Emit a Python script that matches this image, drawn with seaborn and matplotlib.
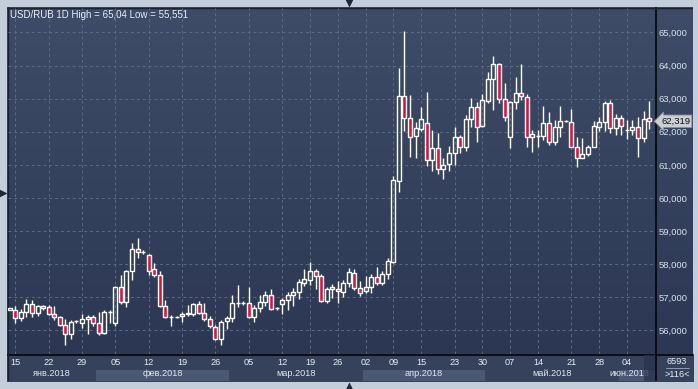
import numpy as np
import pandas as pd
import matplotlib
matplotlib.use("Agg")
import matplotlib.pyplot as plt
import matplotlib.transforms as mtransforms
import seaborn as sns

# ---------------- data ----------------
opens = [56.63, 56.63, 56.37, 56.56, 56.80, 56.53, 56.73, 56.71, 56.49, 56.40,
         56.16, 55.89, 56.27, 56.22, 56.35, 56.40, 56.22, 55.92, 56.56, 56.22,
         57.31, 56.87, 57.79, 58.46, 58.37, 58.29, 57.84, 57.66, 56.73, 56.40,
         56.40, 56.42, 56.49, 56.49, 56.80, 56.53, 56.34, 56.10, 55.74, 56.27,
         56.37, 56.83, 56.83, 56.83, 56.40, 56.67, 56.87, 57.07, 56.68, 56.80,
         56.92, 57.07, 57.15, 57.44, 57.52, 57.78, 57.63, 56.88, 57.24, 57.24,
         57.17, 57.42, 57.73, 57.27, 57.20, 57.30, 57.61, 57.42, 57.70, 58.08,
         60.52, 63.08, 62.43, 61.88, 62.07, 62.28, 61.15, 61.50, 60.87, 61.02,
         61.35, 61.85, 61.53, 62.40, 62.74, 62.17, 62.94, 63.61, 64.06, 62.98,
         61.83, 62.89, 63.18, 63.06, 61.83, 61.87, 61.87, 62.28, 61.70, 62.15,
         62.33, 62.31, 61.55, 61.20, 61.32, 61.55, 62.13, 62.31, 62.86, 62.10,
         62.41, 62.04, 62.04, 62.13, 61.80, 62.41]
highs = [56.68, 56.75, 56.65, 56.95, 56.93, 56.78, 56.78, 56.76, 56.75, 56.44,
         56.34, 56.32, 56.32, 56.49, 56.47, 56.47, 56.56, 56.61, 56.63, 57.33,
         57.66, 57.82, 58.65, 58.78, 58.44, 58.31, 58.04, 57.79, 56.93, 56.47,
         56.44, 56.55, 56.78, 56.83, 56.88, 56.83, 56.42, 56.16, 56.32, 56.42,
         57.08, 57.38, 56.90, 57.31, 56.77, 57.08, 57.18, 57.25, 56.70, 56.98,
         57.15, 57.28, 57.54, 57.84, 58.06, 57.84, 57.69, 57.31, 57.39, 57.50,
         57.52, 57.88, 57.86, 57.50, 57.65, 57.71, 57.93, 57.78, 58.20, 60.66,
         63.93, 65.04, 63.11, 62.30, 62.74, 63.21, 62.05, 61.95, 61.20, 61.57,
         62.15, 61.90, 62.50, 63.01, 62.91, 63.14, 63.81, 64.28, 64.08, 63.46,
         62.93, 63.66, 64.06, 63.13, 62.05, 62.05, 62.78, 62.61, 62.36, 62.78,
         62.35, 62.68, 61.83, 61.80, 61.60, 62.33, 62.45, 62.94, 62.96, 62.54,
         62.50, 62.36, 62.36, 62.44, 62.64, 62.93]
lows = [56.62, 56.22, 56.27, 56.39, 56.39, 56.42, 56.63, 56.47, 56.32, 56.14,
        55.551, 55.74, 56.22, 56.07, 55.88, 56.14, 55.87, 55.89, 56.22, 56.12,
        56.81, 56.71, 57.52, 58.19, 58.32, 57.67, 57.62, 56.71, 56.36, 56.14,
        56.36, 56.24, 56.42, 56.42, 56.51, 56.27, 56.07, 55.72, 55.57, 56.04,
        56.24, 56.71, 56.77, 56.37, 56.25, 56.57, 56.75, 56.61, 56.63, 56.49,
        56.63, 56.75, 56.95, 57.34, 57.36, 57.25, 56.85, 56.82, 56.97, 56.82,
        57.02, 57.32, 57.22, 57.04, 57.12, 57.14, 57.37, 57.37, 57.55, 58.05,
        60.19, 62.03, 61.25, 61.20, 62.03, 60.98, 60.82, 60.72, 60.56, 60.82,
        61.00, 61.35, 61.43, 62.13, 61.70, 62.13, 62.88, 62.66, 62.86, 62.34,
        61.50, 62.69, 62.96, 61.55, 61.40, 61.53, 61.75, 61.60, 61.60, 61.83,
        62.30, 61.53, 60.93, 61.20, 61.27, 61.53, 62.03, 62.03, 61.97, 61.90,
        61.90, 61.78, 61.90, 61.25, 61.69, 62.08]
closes = [56.67, 56.36, 56.56, 56.80, 56.53, 56.73, 56.67, 56.49, 56.41, 56.16,
          55.89, 56.25, 56.27, 56.34, 56.40, 56.22, 55.92, 56.56, 56.57, 57.31,
          56.87, 57.79, 58.46, 58.37, 58.37, 57.79, 57.66, 56.73, 56.39, 56.40,
          56.40, 56.49, 56.53, 56.80, 56.53, 56.34, 56.12, 55.74, 56.25, 56.37,
          56.83, 56.83, 56.83, 56.40, 56.67, 56.87, 57.08, 56.65, 56.68, 56.92,
          57.08, 57.17, 57.45, 57.54, 57.78, 57.63, 56.88, 57.25, 57.32, 57.19,
          57.42, 57.76, 57.27, 57.12, 57.30, 57.61, 57.42, 57.70, 58.10, 60.54,
          63.08, 62.43, 61.85, 62.10, 62.40, 61.15, 61.50, 60.88, 60.99, 61.37,
          61.85, 61.53, 62.40, 62.74, 62.13, 62.96, 63.61, 64.06, 62.98, 62.44,
          62.91, 63.18, 63.08, 61.83, 61.92, 61.87, 62.28, 61.70, 62.15, 62.33,
          62.33, 61.55, 61.20, 61.32, 61.55, 62.19, 62.31, 62.86, 62.10, 62.41,
          62.19, 62.04, 62.13, 61.80, 62.39, 62.319]

tick_idx = [1, 7, 13, 19, 25, 31, 37, 43, 49, 54, 59, 64, 69, 74, 80, 85, 90, 95, 101, 106, 111]
tick_labels = ["15", "22", "29", "05", "12", "19", "26", "05", "12", "19", "26",
               "02", "09", "15", "23", "30", "07", "14", "21", "28", "04"]
month_labels = ["янв.2018", "фев.2018", "мар.2018", "апр.2018", "май.2018", "июн.2018"]
month_bounds = [-0.5, 15.5, 39.5, 63.5, 85.5, 109.5, 118.0]
price_ticks = [56, 57, 58, 59, 60, 61, 62, 63, 64, 65]
title = "USD/RUB 1D High = 65,04 Low = 55,551"
last_price = 62.319
footer_top = "6593"
footer_bottom = ">116<"

df = pd.DataFrame({"open": opens, "high": highs, "low": lows, "close": closes})
df["i"] = np.arange(len(df))
df["up"] = df["close"] >= df["open"]
df["top"] = df[["open", "close"]].max(axis=1)
df["bot"] = df[["open", "close"]].min(axis=1)

# ---------------- style ----------------
sns.set_theme(style="dark")
plt.rcParams["font.family"] = ["Liberation Sans", "DejaVu Sans"]

W, H = 698, 389
fig = plt.figure(figsize=(W / 100, H / 100), dpi=100, facecolor="#c3ceda")


def rect(x0, y0, x1, y1):
    return [x0 / W, 1 - y1 / H, (x1 - x0) / W, (y1 - y0) / H]


# panel background
bg = fig.add_axes(rect(7, 7, 693, 381))
bg.set_xlim(7, 693)
bg.set_ylim(381, 7)
bg.axis("off")
grad = np.linspace(0, 1, 256).reshape(-1, 1)
cmap = matplotlib.colors.LinearSegmentedColormap.from_list("g", ["#3f4c67", "#2c3853"])
bg.imshow(grad, extent=[7, 693, 354, 7], aspect="auto", cmap=cmap, zorder=0)
bg.fill_between([7, 693], 354, 381, color="#36425c", zorder=0.5)
bg.plot([655.5, 655.5], [7, 381], color="black", lw=1.1, zorder=3)
bg.plot([7, 693], [354.5, 354.5], color="black", lw=1.1, zorder=3)
bg.plot([7.5, 7.5], [7, 381], color="#1a2232", lw=1.0, zorder=3)
bg.plot([7, 693], [7.5, 7.5], color="#1a2232", lw=1.0, zorder=3)
bg.plot([666, 689], [368, 368], color="#9aa8bf", lw=0.6, zorder=3)
bg.text(677, 361.5, footer_top, ha="center", va="center", fontsize=6.6, color="#e6ecf5")
bg.text(677, 374.5, footer_bottom, ha="center", va="center", fontsize=6.6, color="#e6ecf5")

XL = (-0.31, 116.06)
YL = (55.287, 65.74)

# bottom date strip
bx = fig.add_axes(rect(8, 355, 655, 381))
bx.set_xlim(*XL)
bx.set_ylim(0, 1)
bx.axis("off")
for k, lab in enumerate(month_labels):
    a, b = month_bounds[k], month_bounds[k + 1]
    if k in (1, 3, 5):
        bx.axvspan(a, b, ymin=0, ymax=0.42, color="#4a5873", lw=0, zorder=1)
    va_, vb_ = max(a, XL[0]), min(b, XL[1])
    cx = (va_ + vb_) / 2 if k != 5 else 111.5
    bx.text(cx, 0.27, lab, ha="center", va="center", fontsize=6.6,
            color="#dfe6f0", zorder=3, clip_on=True)
bx.axvspan(114.0, XL[1], color="#28334d", alpha=0.75, lw=0, zorder=4)
for t, lab in zip(tick_idx, tick_labels):
    bx.text(t, 0.7, lab, ha="center", va="center", fontsize=6.6, color="#e6ecf5", zorder=3)

# main chart
ax = fig.add_axes(rect(8, 8, 655, 354))
ax.set_facecolor("none")
ax.set_xlim(*XL)
ax.set_ylim(*YL)
for s in ax.spines.values():
    s.set_visible(False)
ax.grid(False)
ax.hlines(price_ticks, XL[0], XL[1], colors="#5b6a86", linestyles=(0, (3, 3)), lw=0.7, zorder=1)
ax.vlines(tick_idx, YL[0], YL[1], colors="#5b6a86", linestyles=(0, (3, 3)), lw=0.7, zorder=1)

ax.vlines(df["i"], df["top"], df["high"], colors="white", lw=1.0, zorder=2)
ax.vlines(df["i"], df["low"], df["bot"], colors="white", lw=1.0, zorder=2)
ax.bar(df["i"], df["top"] - df["bot"], bottom=df["bot"], width=0.72,
       color=np.where(df["up"], "none", "#dc143c"), edgecolor="white", linewidth=1.0, zorder=3)

ax.set_xticks([])
ax.yaxis.tick_right()
ax.set_yticks(price_ticks)
ax.set_yticklabels([f"{v:.3f}".replace(".", ",") for v in price_ticks])
ax.tick_params(axis="y", length=0, pad=2.5, labelsize=6.8, labelcolor="#d6e0f0")

trans = mtransforms.blended_transform_factory(ax.transAxes, ax.transData)
ax.text(1.0 + 6 / 647, last_price, f"{last_price:.3f}".replace(".", ","), transform=trans,
        ha="left", va="center", fontsize=6.8, color="#111111", clip_on=False, zorder=6,
        bbox=dict(boxstyle="larrow,pad=0.18", fc="#cbced4", ec="#8b919c", lw=0.6))

fig.text(10 / W, 1 - 15.5 / H, title, ha="left", va="center", fontsize=7.0, color="#e8eef8")

# small navigation triangles
ov = fig.add_axes([0, 0, 1, 1])
ov.set_xlim(0, W)
ov.set_ylim(H, 0)
ov.axis("off")
ov.set_facecolor("none")
ov.plot([349], [3], marker="v", ms=6, color="#1d2738", mec="none")
ov.plot([349], [386], marker="^", ms=6, color="#1d2738", mec="none")
ov.plot([3], [193], marker=">", ms=6, color="#1d2738", mec="none")

fig.savefig("out.png", dpi=100, facecolor=fig.get_facecolor())
